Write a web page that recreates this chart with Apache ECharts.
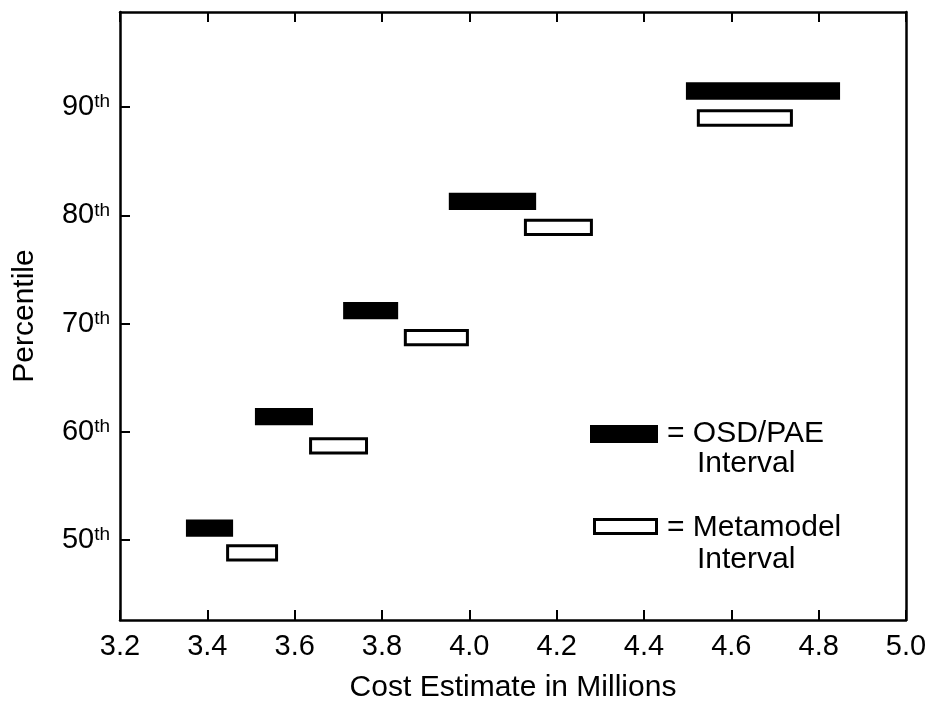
<!DOCTYPE html>
<html><head><meta charset="utf-8">
<script src="https://cdn.jsdelivr.net/npm/echarts@6/dist/echarts.min.js"></script>
<style>html,body{margin:0;padding:0;background:#fff}#c{width:932px;height:704px}</style>
</head><body><div id="c"></div>
<script>
const percentiles = [50, 60, 70, 80, 90];
const xTicks = [3.2, 3.4, 3.6, 3.8, 4.0, 4.2, 4.4, 4.6, 4.8, 5.0];
const osdLow  = [3.351, 3.509, 3.711, 3.953, 4.496];
const osdHigh = [3.459, 3.642, 3.837, 4.153, 4.849];
const osdY    = [51.1, 61.4, 71.2, 81.3, 91.5];
const metaLow  = [3.443, 3.633, 3.850, 4.125, 4.521];
const metaHigh = [3.562, 3.768, 3.999, 4.283, 4.741];
const metaY    = [48.8, 58.7, 68.7, 78.9, 89.0];

const FONT = '"Liberation Sans", Arial, Helvetica, sans-serif';
const chart = echarts.init(document.getElementById('c'));
const BAR_H = 1.6;

function rectItem(filled) {
  return function (params, api) {
    const lo = api.coord([api.value(0), api.value(2) + BAR_H / 2]);
    const hi = api.coord([api.value(1), api.value(2) - BAR_H / 2]);
    if (filled) {
      return { type: 'rect', shape: { x: lo[0], y: lo[1], width: hi[0] - lo[0], height: hi[1] - lo[1] },
        style: { fill: '#000', stroke: null } };
    }
    return { type: 'rect', shape: { x: lo[0] + 1.5, y: lo[1] + 1.5, width: hi[0] - lo[0] - 3, height: hi[1] - lo[1] - 3 },
      style: { fill: '#fff', stroke: '#000', lineWidth: 3 } };
  };
}

const osdData = percentiles.map((p, i) => [osdLow[i], osdHigh[i], osdY[i]]);
const metaData = percentiles.map((p, i) => [metaLow[i], metaHigh[i], metaY[i]]);

const axisLine = { show: true, lineStyle: { color: '#000', width: 2.5 } };
const txt = (text, x, y) => ({ type: 'text', x: x, y: y,
  style: { text: text, fontSize: 30, fontFamily: FONT, fill: '#000', verticalAlign: 'middle' } });
chart.setOption({
  animation: false,
  backgroundColor: '#fff',
  grid: { left: 120, right: 26, top: 12, bottom: 84, containLabel: false, outerBoundsMode: 'none' },
  xAxis: [{
    type: 'value', min: 3.2, max: 5.0, position: 'bottom',
    axisLine: axisLine, splitLine: { show: false },
    axisTick: { show: true, inside: true, length: 10, lineStyle: { color: '#000', width: 2 }, customValues: xTicks },
    axisLabel: { customValues: xTicks, formatter: v => v.toFixed(1), fontSize: 29, color: '#000', fontFamily: FONT, margin: 12 },
    name: 'Cost Estimate in Millions', nameLocation: 'middle', nameGap: 53,
    nameTextStyle: { fontSize: 30, color: '#000', fontFamily: FONT }
  }, {
    type: 'value', min: 3.2, max: 5.0, position: 'top',
    axisLine: axisLine, splitLine: { show: false },
    axisTick: { show: true, inside: true, length: 10, lineStyle: { color: '#000', width: 2 }, customValues: xTicks },
    axisLabel: { show: false }
  }],
  yAxis: [{
    type: 'value', min: 42.6, max: 98.8, position: 'left',
    axisLine: axisLine, splitLine: { show: false },
    axisTick: { show: true, inside: true, length: 10, lineStyle: { color: '#000', width: 2 }, customValues: percentiles },
    axisLabel: {
      customValues: percentiles, margin: 10, color: '#000', fontFamily: FONT,
      formatter: v => '{n|' + v + '}{s|th}',
      rich: {
        n: { fontSize: 29, fontFamily: FONT, color: '#000' },
        s: { fontSize: 19, fontFamily: FONT, color: '#000', verticalAlign: 'top', padding: [0, 0, 8, 0] }
      }
    },
    name: 'Percentile', nameLocation: 'middle', nameGap: 80,
    nameTextStyle: { fontSize: 30, color: '#000', fontFamily: FONT }
  }, {
    type: 'value', min: 42.6, max: 98.8, position: 'right',
    axisLine: axisLine, splitLine: { show: false }, axisTick: { show: false }, axisLabel: { show: false }
  }],
  graphic: [
    { type: 'rect', shape: { x: 590, y: 425, width: 68, height: 18 }, style: { fill: '#000' } },
    txt('= OSD/PAE', 667, 434),
    txt('Interval', 697, 464),
    { type: 'rect', shape: { x: 594.5, y: 519.5, width: 62, height: 14 }, style: { fill: '#fff', stroke: '#000', lineWidth: 3 } },
    txt('= Metamodel', 667, 528),
    txt('Interval', 697, 560)
  ],
  series: [
    { type: 'custom', name: 'OSD/PAE Interval', renderItem: rectItem(true), data: osdData, encode: { x: [0, 1], y: 2 } },
    { type: 'custom', name: 'Metamodel Interval', renderItem: rectItem(false), data: metaData, encode: { x: [0, 1], y: 2 } }
  ]
});
</script></body></html>
